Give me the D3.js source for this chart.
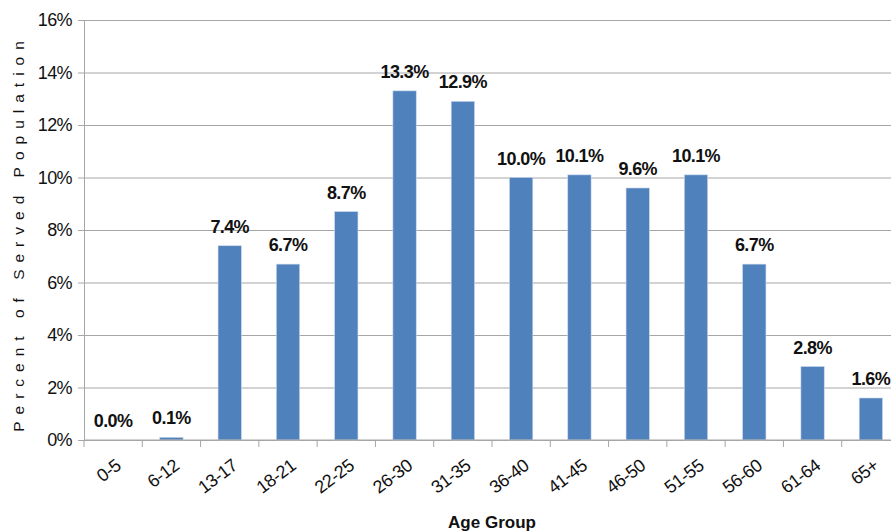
<!DOCTYPE html>
<meta charset="utf-8">
<script src="https://d3js.org/d3.v7.min.js"></script>
<style>
  body { margin: 0; background: #fff; }
  svg { display: block; font-family: "Liberation Sans", Arial, sans-serif; }
</style>
<div id="dataVis"></div>
<script>
// age groups and share of served population (%)
var ageGroups = ["0-5", "6-12", "13-17", "18-21", "22-25", "26-30", "31-35",
                 "36-40", "41-45", "46-50", "51-55", "56-60", "61-64", "65+"];
var percents = [0.0, 0.1, 7.4, 6.7, 8.7, 13.3, 12.9, 10.0, 10.1, 9.6, 10.1, 6.7, 2.8, 1.6];
var yTicks = [0, 2, 4, 6, 8, 10, 12, 14, 16];

var width = 891, height = 531;
var plotLeft = 84, plotRight = 900, plotTop = 20, plotBottom = 440;

var svg = d3.select("#dataVis").append("svg")
    .attr("width", width)
    .attr("height", height);

var x = d3.scaleBand()
    .domain(ageGroups)
    .range([plotLeft, plotRight])
    .paddingInner(0.6)
    .paddingOuter(0.3);

var y = d3.scaleLinear()
    .domain([0, 16])
    .range([plotBottom, plotTop]);

// gridlines + y labels
var yAxis = svg.append("g")
    .attr("transform", "translate(" + plotLeft + ",0)")
    .call(d3.axisLeft(y).tickValues(yTicks)
      .tickSize(-(plotRight - plotLeft)).tickSizeOuter(0)
      .tickPadding(12)
      .tickFormat(d => d + "%"));
yAxis.select(".domain").attr("stroke", "#a6a6a6");
yAxis.selectAll(".tick line").attr("stroke", "#a6a6a6").attr("x1", -6);
yAxis.selectAll(".tick text")
    .attr("font-size", 18).attr("fill", "#111")
    .attr("letter-spacing", "-0.6px")
    .attr("font-family", "Liberation Sans, Arial, sans-serif");

// bars
svg.append("g").selectAll("rect")
  .data(percents)
  .enter().append("rect")
    .attr("x", (d, i) => x(ageGroups[i]))
    .attr("y", d => y(d))
    .attr("width", x.bandwidth())
    .attr("height", d => y(0) - y(d))
    .attr("fill", "#4f81bd")
    .attr("stroke", "#c9d7ea")
    .attr("stroke-width", 0.6);

// value labels
svg.append("g").selectAll("text")
  .data(percents)
  .enter().append("text")
    .attr("x", (d, i) => x(ageGroups[i]) + x.bandwidth() / 2)
    .attr("y", d => y(d) - 13)
    .attr("text-anchor", "middle")
    .attr("font-size", 18)
    .attr("letter-spacing", "-0.6px")
    .attr("font-weight", "bold")
    .attr("fill", "#111")
    .text(d => d.toFixed(1) + "%");

// x axis with boundary ticks
var xg = svg.append("g").attr("transform", "translate(0," + plotBottom + ")");
xg.append("line")
    .attr("x1", plotLeft).attr("x2", width)
    .attr("stroke", "#a6a6a6");
var bandW = (plotRight - plotLeft) / ageGroups.length;
xg.selectAll(".bt")
  .data(d3.range(ageGroups.length + 1))
  .enter().append("line")
    .attr("x1", i => plotLeft + i * bandW)
    .attr("x2", i => plotLeft + i * bandW)
    .attr("y1", 0).attr("y2", 7)
    .attr("stroke", "#a6a6a6");
xg.selectAll(".lbl")
  .data(ageGroups)
  .enter().append("text")
    .attr("text-anchor", "end")
    .attr("font-size", 18)
    .attr("letter-spacing", "-0.5px")
    .attr("fill", "#111")
    .attr("transform", d => "translate(" + (x(d) + x.bandwidth() / 2 + 9) + ",28) rotate(-37)")
    .text(d => d);

// axis titles
svg.append("text")
    .attr("transform", "translate(24," + ((plotTop + plotBottom) / 2 + 3) + ") rotate(-90)")
    .attr("text-anchor", "middle")
    .attr("font-size", 15.5)
    .attr("letter-spacing", "7px")
    .attr("fill", "#111")
    .text("Percent of Served Population");

svg.append("text")
    .attr("x", (plotLeft + plotRight) / 2)
    .attr("y", 528)
    .attr("text-anchor", "middle")
    .attr("font-size", 17)
    .attr("font-weight", "bold")
    .attr("fill", "#111")
    .text("Age Group");
</script>
